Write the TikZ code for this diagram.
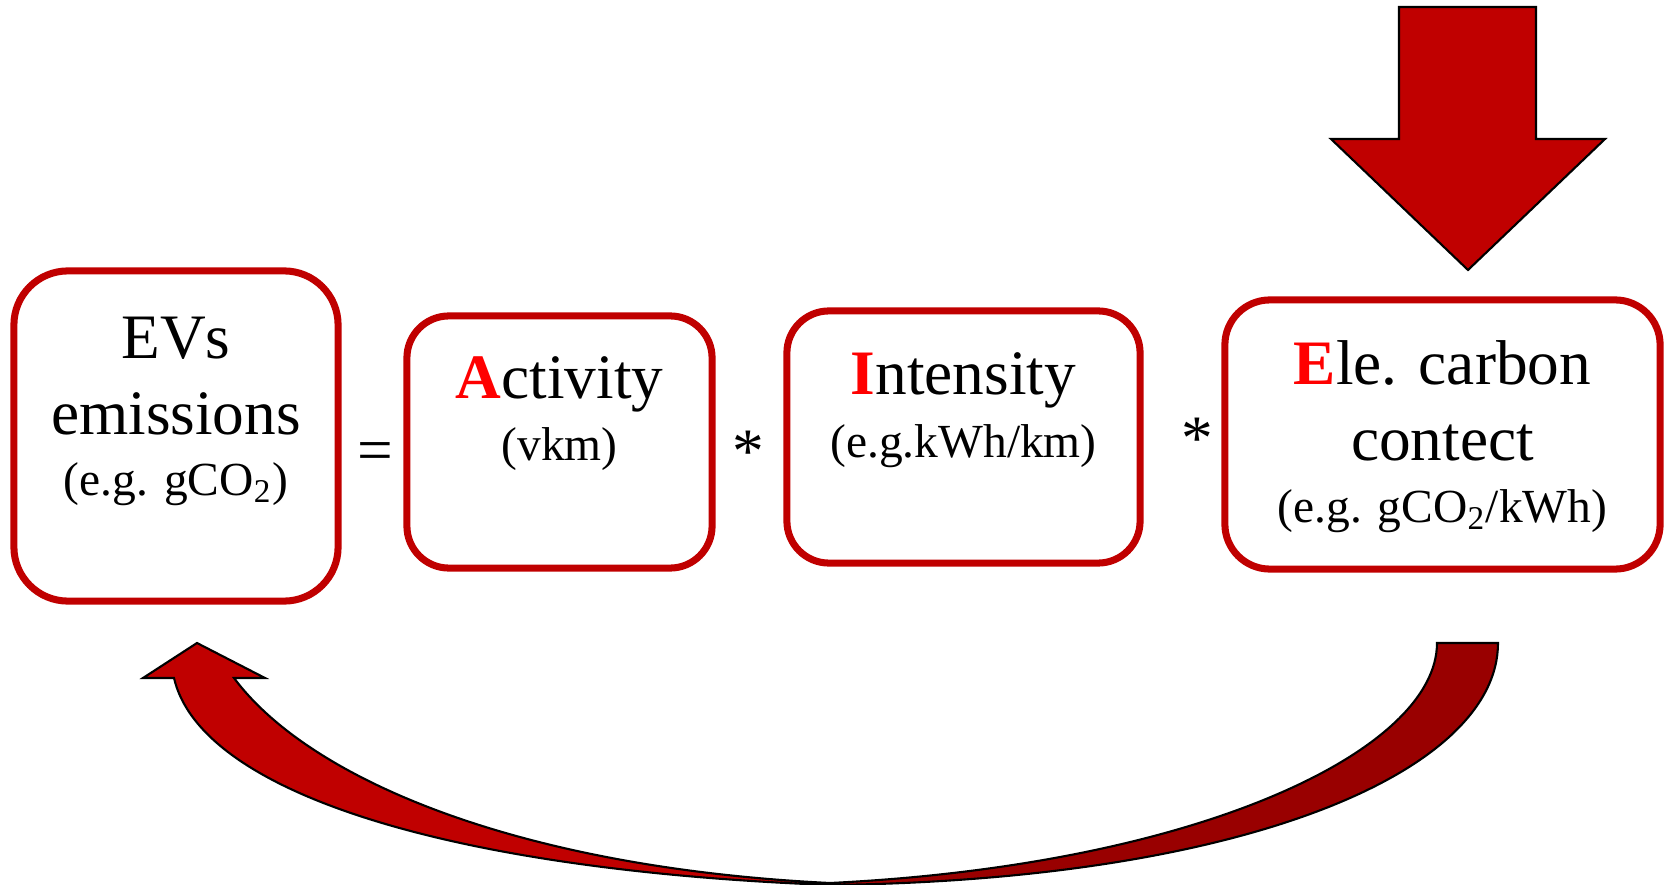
\documentclass[tikz,border=0pt]{standalone}
\usepackage{fontspec}
\setmainfont{Liberation Serif}

\definecolor{boxred}{HTML}{C00000}
\definecolor{darkred}{HTML}{990000}
\definecolor{keyred}{HTML}{FF0000}
\newcommand{\keyletter}[1]{\textcolor{keyred}{\textbf{#1}}}
\newcommand{\bigsize}{\fontsize{18}{21}\selectfont}
\newcommand{\smallsize}{\fontsize{13.5}{16}\selectfont}
\pgfdeclarehorizontalshading{arrowshade}{100bp}{color(0bp)=(boxred); color(48bp)=(boxred); color(53bp)=(darkred); color(100bp)=(darkred)}

\begin{document}
\begin{tikzpicture}[x=0.01cm,y=-0.01cm,
  box/.style={draw=boxred,line width=2pt,inner sep=0pt},
  big/.style={anchor=base,font=\bigsize},
  small/.style={anchor=base,font=\smallsize},
  block/.style={fill=boxred,draw=black,line width=0.6pt}]
   \useasboundingbox (0,0) rectangle (1666,885);

   % the four boxes
   \node[box,rounded corners=0.54cm,minimum width=3.24cm,minimum height=3.30cm] (evs) at (176,436) {};
   \node[box,rounded corners=0.42cm,minimum width=3.05cm,minimum height=2.52cm] (act) at (559.5,442) {};
   \node[box,rounded corners=0.42cm,minimum width=3.53cm,minimum height=2.52cm] (int) at (963.5,437) {};
   \node[box,rounded corners=0.45cm,minimum width=4.35cm,minimum height=2.69cm] (ele) at (1442.5,434.5) {};

   % texts
   \node[big] (evs1) at (176,358) {EVs};
   \node[big] (evs2) at (176,435) {emissions};
   \node[small] (evs3) at (176,495) {(e.g. gCO\textsubscript{2})};
   \node[big] (act1) at (559.5,399) {\keyletter{A}ctivity};
   \node[small] (act2) at (559.5,460) {(vkm)};
   \node[big] (int1) at (963.5,395) {\keyletter{I}ntensity};
   \node[small] (int2) at (963.5,457) {(e.g.kWh/km)};
   \node[big] (ele1) at (1442.5,385) {\keyletter{E}le. carbon};
   \node[big] (ele2) at (1442.5,460) {contect};
   \node[small] (ele3) at (1442.5,522) {(e.g. gCO\textsubscript{2}/kWh)};

   % operators
   \node[big] (eq) at (375,471) {=};
   \node[big] (times1) at (748,472) {*};
   \node[big] (times2) at (1197,459) {*};

   % arrow into the last box
   \draw[block] (1399,7) -- (1536,7) -- (1536,139) -- (1605,139) -- (1468,270)
      -- (1331,139) -- (1399,139) -- cycle;

   % curved arrow back to the first box
   \draw[draw=black,line width=0.6pt,shading=arrowshade]
      (1437,643) -- (1498,643) .. controls (1498,770) and (1250,880) .. (830,885)
      .. controls (440,870) and (200,790) .. (174,678) -- (143,678) -- (197,643)
      -- (265,678) -- (234,678) .. controls (310,780) and (520,868) .. (830,883)
      .. controls (1200,865) and (1437,750) .. (1437,643) -- cycle;
\end{tikzpicture}
\end{document}
